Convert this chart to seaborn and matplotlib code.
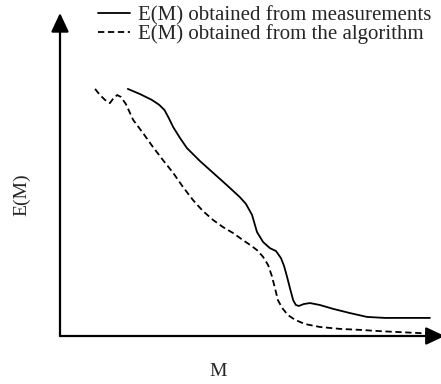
import numpy as np
import pandas as pd
import seaborn as sns
import matplotlib
matplotlib.use("Agg")
import matplotlib.pyplot as plt

# values (M and E(M) on a 0-100 scale)
m_meas = [17.8, 21.0, 24.1, 26.0, 27.4, 28.5, 29.7, 31.5, 33.3, 36.7, 40.2, 43.8, 47.2,
          48.8, 50.4, 51.7, 53.3, 55.1, 56.7, 58.0, 58.8, 59.6, 60.4, 61.2, 61.9,
          62.7, 64.0, 65.6, 68.2, 71.7, 76.1, 80.6, 85.3, 89.2, 93.2, 97.1]
e_meas = [76.5, 74.9, 73.1, 71.6, 70.0, 67.6, 64.7, 61.3, 58.2, 54.2, 50.5, 46.7, 43.0,
          40.9, 37.5, 32.2, 29.1, 27.2, 26.3, 24.1, 21.7, 18.3, 14.6, 11.1, 9.6,
          9.3, 9.9, 10.2, 9.6, 8.4, 7.1, 5.9, 5.6, 5.6, 5.6, 5.6]

m_algo = [9.2, 10.5, 11.8, 13.1, 13.9, 15.0, 16.0, 17.3, 19.2, 21.8, 24.4, 27.0,
          29.7, 32.3, 34.9, 37.5, 40.2, 42.8, 45.4, 48.0, 49.9, 51.7, 53.3, 54.6,
          55.6, 56.4, 57.2, 58.3, 59.8, 61.7, 64.3, 68.2, 73.5, 78.7, 84.0, 89.2,
          94.5, 98.4]
e_algo = [76.5, 74.6, 73.1, 72.1, 73.4, 74.6, 74.0, 71.8, 66.9, 62.8, 58.5, 54.5,
          50.5, 46.1, 42.1, 38.7, 35.9, 33.7, 31.9, 29.7, 28.2, 26.6, 24.5, 22.0,
          18.6, 14.9, 11.1, 8.7, 6.5, 5.0, 3.7, 2.8, 2.2, 1.9, 1.5, 1.2,
          0.9, 0.6]

labels = ["E(M) obtained from measurements", "E(M) obtained from the algorithm"]

df = pd.concat([
    pd.DataFrame({"M": m_meas, "E": e_meas, "series": labels[0]}),
    pd.DataFrame({"M": m_algo, "E": e_algo, "series": labels[1]}),
])

sns.set_style("white")
plt.rcParams["font.family"] = ["Liberation Serif", "DejaVu Serif"]

fig = plt.figure(figsize=(4.41, 3.84), dpi=100)
ax = fig.add_axes([60 / 441, 48 / 384, 381 / 441, 323 / 384])

sns.lineplot(data=df, x="M", y="E", style="series", hue="series",
             palette=["black", "black"], dashes={labels[0]: "", labels[1]: (3.5, 2)},
             estimator=None, sort=False, linewidth=1.3, ax=ax)

ax.set_xlim(0, 100)
ax.set_ylim(0, 100)
ax.set_xticks([])
ax.set_yticks([])
ax.set_xlabel("")
ax.set_ylabel("")
for s in ax.spines.values():
    s.set_visible(False)

# axes with arrow heads
arrow = dict(arrowstyle="-|>,head_length=1.15,head_width=0.54", color="black",
             lw=1.6, shrinkA=0, shrinkB=0, mutation_scale=10)
ax.annotate("", xy=(0, 1), xytext=(0, 0), xycoords="axes fraction",
            arrowprops=arrow, annotation_clip=False)
ax.annotate("", xy=(1.01, 0), xytext=(0, 0), xycoords="axes fraction",
            arrowprops=arrow, annotation_clip=False)

fig.text(22 / 441, 1 - 195 / 384, "E(M)", rotation=90, ha="center", va="center",
         fontsize=14)
fig.text(218 / 441, 1 - 371 / 384, "M", ha="center", va="center", fontsize=14)

ax.legend(loc="upper left", bbox_to_anchor=(98 / 441, 1 - 6 / 384),
          bbox_transform=fig.transFigure, frameon=False, fontsize=15,
          borderpad=0, borderaxespad=0, handlelength=1.55, handletextpad=0.38,
          labelspacing=-0.05)

fig.savefig("out.png", dpi=100)
